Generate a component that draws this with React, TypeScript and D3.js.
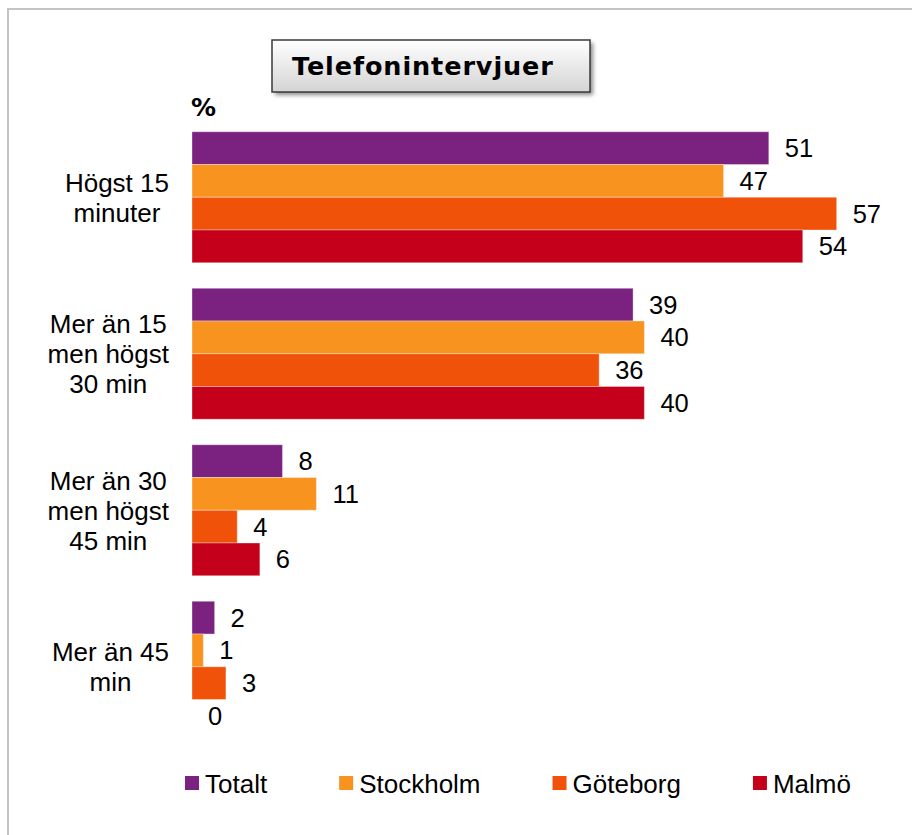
import React, { useEffect, useMemo } from 'react';
import * as d3 from 'd3';

// chart data
const categories = ['Högst 15 minuter', 'Mer än 15 men högst 30 min', 'Mer än 30 men högst 45 min', 'Mer än 45 min'];
const categoryLines = [
  ['Högst 15', 'minuter'],
  ['Mer än 15', 'men högst', '30 min'],
  ['Mer än 30', 'men högst', '45 min'],
  ['Mer än 45', 'min'],
];
const seriesNames = ['Totalt', 'Stockholm', 'Göteborg', 'Malmö'];
const totalt = [51, 39, 8, 2];
const stockholm = [47, 40, 11, 1];
const goteborg = [57, 36, 4, 3];
const malmo = [54, 40, 6, 0];
const seriesValues = [totalt, stockholm, goteborg, malmo];
const colors = ['#7b2280', '#f7931e', '#f0520a', '#c5001a'];
const title = 'Telefonintervjuer';
const unitLabel = '%';

const W = 912;
const H = 835;
const FONT = "'Liberation Sans', Arial, sans-serif";
const BOLD_FONT = "'DejaVu Sans', Verdana, sans-serif";

// canvas text measuring, used for label centering and legend layout
const measure = (txt: string, font: string) => {
  const ctx = document.createElement('canvas').getContext('2d')!;
  ctx.font = font;
  return ctx.measureText(txt).width;
};

export default function App() {
  useEffect(() => {
    document.body.style.margin = '0';
  }, []);

  const x = d3.scaleLinear().domain([0, 60]).range([192, 870.6]);
  const y = d3.scaleBand<string>().domain(categories).range([119, 745]).paddingInner(0.163).paddingOuter(0.0815);
  const ySub = d3.scaleBand<string>().domain(seriesNames).range([0, y.bandwidth()]);

  const catFont = `26px ${FONT}`;
  const labelBlocks = useMemo(
    () => categoryLines.map((lines) => Math.max(...lines.map((l) => measure(l, catFont)))),
    []
  );

  const legendFont = `26px ${FONT}`;
  const legendX = useMemo(() => {
    let pos = 185;
    return seriesNames.map((s) => {
      const cur = pos;
      pos += 14 + 6 + measure(s, legendFont) + 72;
      return cur;
    });
  }, []);

  const lineH = 30;

  return (
    <svg width={W} height={H} style={{ display: 'block' }}>
      <defs>
        <linearGradient id="titleGrad" x1="0" y1="0" x2="0" y2="1">
          <stop offset="0" stopColor="#ffffff" />
          <stop offset="1" stopColor="#d4d4d4" />
        </linearGradient>
        <filter id="shadow" x="-10%" y="-20%" width="130%" height="160%">
          <feGaussianBlur stdDeviation="2" />
        </filter>
      </defs>
      <rect x={0} y={0} width={W} height={H} fill="#fff" />
      {/* outer frame, runs off the right and bottom */}
      <rect x={8} y={9} width={W + 20} height={H + 20} fill="none" stroke="#c4c4c4" strokeWidth={2} />

      {/* title box */}
      <rect x={275} y={43} width={318} height={52} fill="#8a8a8a" filter="url(#shadow)" />
      <rect x={272} y={40} width={318} height={52} fill="url(#titleGrad)" stroke="#3a3a3a" strokeWidth={1.5} />
      <text x={292} y={75} fontFamily={BOLD_FONT} fontWeight="bold" fontSize={25.5} letterSpacing={0.9} fill="#000">
        {title}
      </text>
      <text x={191} y={116} fontFamily={BOLD_FONT} fontWeight="bold" fontSize={25} fill="#000">
        {unitLabel}
      </text>

      {/* bars */}
      {categories.map((c, ci) => (
        <g key={c} transform={`translate(0,${y(c)})`}>
          {seriesNames.map((s, si) => {
            const v = seriesValues[si][ci];
            const by = ySub(s)!;
            const bh = ySub.bandwidth();
            return (
              <g key={s}>
                {v > 0 && (
                  <rect
                    x={x(0)}
                    y={by}
                    width={x(v) - x(0)}
                    height={bh}
                    fill={colors[si]}
                    stroke="#ffffff"
                    strokeOpacity={0.35}
                    strokeWidth={1}
                  />
                )}
                <text x={x(v) + 16} y={by + bh / 2 + 9} fontFamily={FONT} fontSize={25.5} fill="#000">
                  {v}
                </text>
              </g>
            );
          })}
        </g>
      ))}

      {/* category labels */}
      {categories.map((c, ci) => {
        const lines = categoryLines[ci];
        const cx = 169 - labelBlocks[ci] / 2;
        const cy = y(c)! + y.bandwidth() / 2;
        return (
          <text key={c} fontFamily={FONT} fontSize={26} fill="#000" textAnchor="middle">
            {lines.map((l, li) => (
              <tspan key={li} x={cx} y={cy + (li - (lines.length - 1) / 2) * lineH + 9.3}>
                {l}
              </tspan>
            ))}
          </text>
        );
      })}

      {/* legend */}
      {seriesNames.map((s, si) => (
        <g key={s} transform={`translate(${legendX[si]},776)`}>
          <rect width={14} height={14} fill={colors[si]} />
          <text x={20} y={16.5} fontFamily={FONT} fontSize={26} fill="#000">
            {s}
          </text>
        </g>
      ))}
    </svg>
  );
}
